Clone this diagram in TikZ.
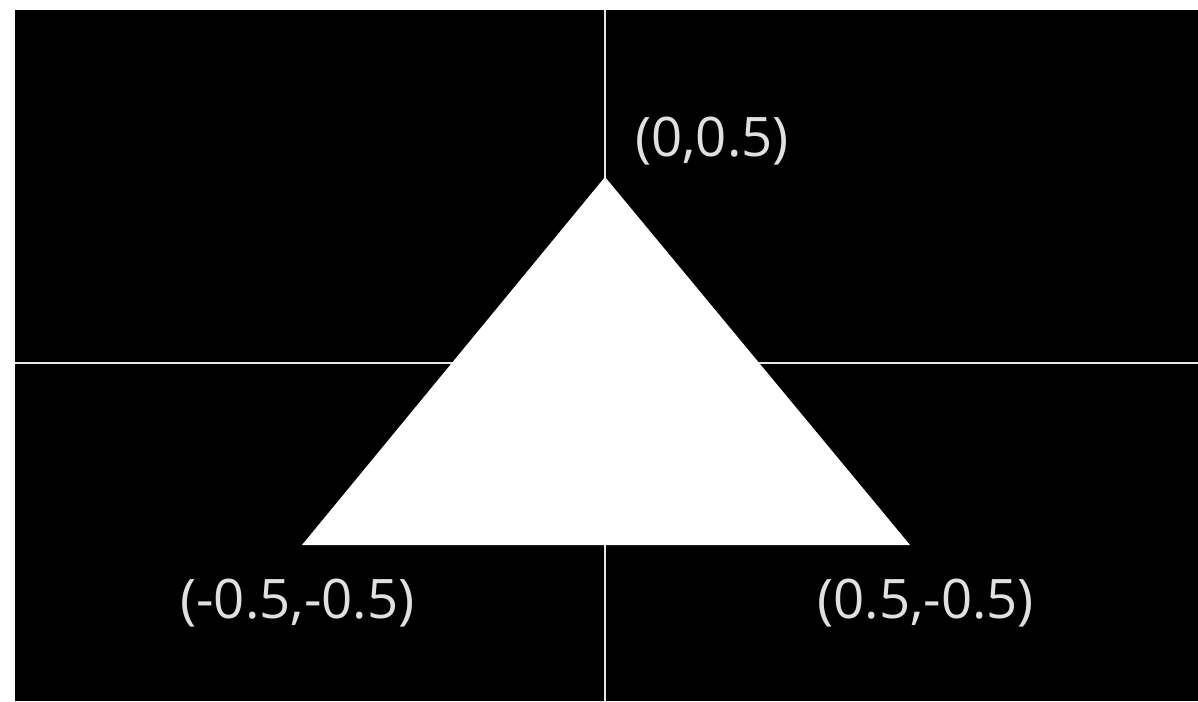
\documentclass[tikz,border=0pt]{standalone}
\usepackage{fontspec}
\setmainfont{Open Sans}
\usepackage{xcolor}
\definecolor{Paper}{HTML}{FFFFFF}
\definecolor{Screen}{HTML}{000000}
\definecolor{AxisGray}{HTML}{E6E6E6}
\definecolor{LabelGray}{HTML}{E0E0E0}

\begin{document}
\begin{tikzpicture}[x=1pt,y=-1pt,font=\fontsize{54.5}{62}\selectfont,
    vlabel/.style={text=LabelGray,inner sep=0pt,anchor=west}]
    \useasboundingbox (0,0) rectangle (1198,701);
    \fill[Paper] (0,0) rectangle (1198,701);
    \fill[Screen] (15,10) rectangle (1198,701);
    % axes
    \draw[AxisGray,line width=2.4pt] (605,10) -- (605,701);
    \draw[AxisGray,line width=2.4pt] (15,363) -- (1198,363);
    % triangle
    \coordinate (top) at (605,177);
    \coordinate (left) at (302,545);
    \coordinate (right) at (910,545);
    \fill[white] (top) -- (left) -- (right) -- cycle;
    % vertex labels
    \node[vlabel] (ltop) at (635,141) {(0,0.5)};
    \node[vlabel] (lleft) at (180,603) {(-0.5,-0.5)};
    \node[vlabel] (lright) at (817,603) {(0.5,-0.5)};
  \end{tikzpicture}
\end{document}
